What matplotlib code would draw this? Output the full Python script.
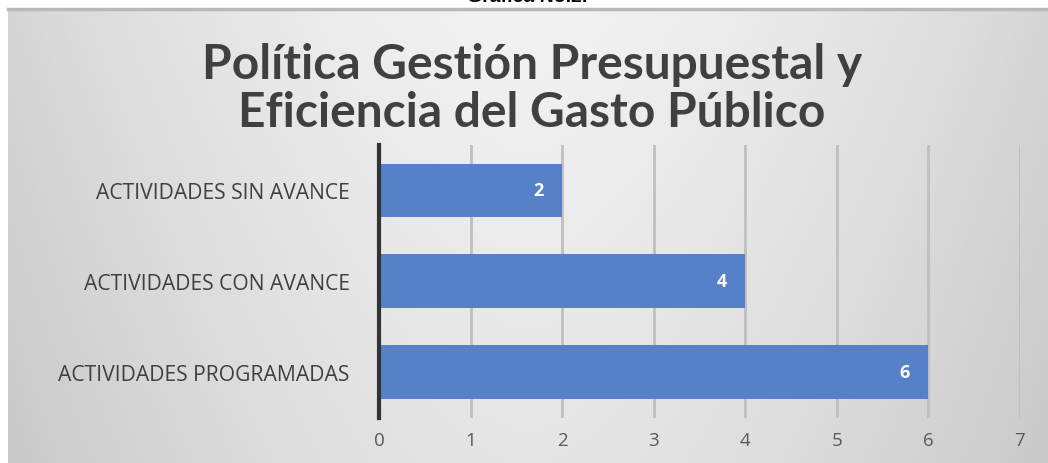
import numpy as np
import matplotlib.pyplot as plt
from matplotlib.colors import LinearSegmentedColormap

categories = ["ACTIVIDADES PROGRAMADAS", "ACTIVIDADES CON AVANCE", "ACTIVIDADES SIN AVANCE"]
values = [6, 4, 2]
xticks = [0, 1, 2, 3, 4, 5, 6, 7]
title = "Política Gestión Presupuestal y\nEficiencia del Gasto Público"
caption = "Gráfica No.2."

W, H = 1048, 464
fig = plt.figure(figsize=(W / 100, H / 100), dpi=100)
fig.patch.set_facecolor("white")

# background gradient panel
bg = fig.add_axes([8 / W, 0, (W - 8) / W, (H - 10) / H])
bg.set_axis_off()
xx = np.linspace(-1, 1, 400)
yy = np.linspace(0, 1, 200)
X, Y = np.meshgrid(xx, yy)
g = 1 - 0.55 * (np.abs(X) ** 1.6) - 0.25 * Y
cmap = LinearSegmentedColormap.from_list("g", ["#c9c9c9", "#f2f2f2"])
bg.imshow(g, cmap=cmap, aspect="auto", extent=[0, 1, 0, 1], origin="upper", vmin=0.2, vmax=1)
bg.set_xlim(0, 1)
bg.set_ylim(0, 1)
fig.add_artist(plt.Line2D([8 / W, 1], [1 - 10 / H, 1 - 10 / H], color="#b8b8b8", lw=2.5,
                          transform=fig.transFigure))

fig.text(527 / W, 1 + 3 / H, caption, ha="center", va="center", fontsize=14,
         fontweight="bold", family=["Liberation Sans", "DejaVu Sans"], color="black")

ax = fig.add_axes([379 / W, 1 - 418.5 / H, (1020 - 379) / W, 272.5 / H])
ax.patch.set_alpha(0)
ypos = np.arange(len(categories))
bars = ax.barh(ypos, values, height=0.59, color="#5680C8", zorder=3)
ax.set_xlim(0, 7)
ax.set_ylim(-0.5, 2.5)
ax.set_xticks(xticks)
ax.set_xticklabels([str(t) for t in xticks], fontsize=13.5, color="#595959", family="Open Sans")
ax.tick_params(axis="x", length=0, pad=10)
ax.set_yticks(ypos)
ax.set_yticklabels(categories, fontsize=15.2, color="#404040", family="Open Sans")
ax.tick_params(axis="y", length=0, pad=21)
ax.grid(axis="x", color="#bfbfbf", lw=2, zorder=1)
for s in ["top", "right", "bottom"]:
    ax.spines[s].set_visible(False)
ax.spines["left"].set_color("#333333")
ax.spines["left"].set_linewidth(3)
ax.spines["left"].set_zorder(4)

for b, v in zip(bars, values):
    ax.text(v - 0.26, b.get_y() + b.get_height() / 2, str(v), ha="center", va="center",
            color="white", fontsize=13, fontweight="bold", family="Open Sans", zorder=5)

fig.text(532 / W, 1 - 89 / H, title, ha="center", va="center", fontsize=34.5,
         fontweight="bold", color="#404040", family="Lato", linespacing=1.12)

fig.savefig("out.png", dpi=100)
